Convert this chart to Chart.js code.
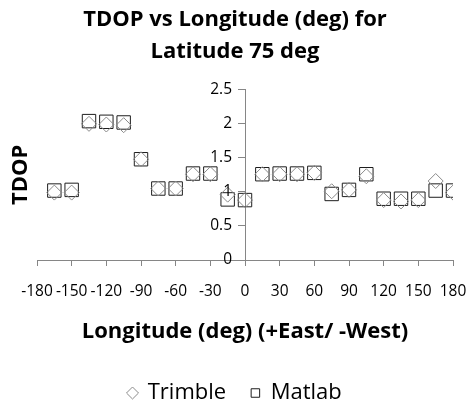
<!DOCTYPE html>
<html>
<head>
<meta charset="utf-8">
<script src="https://cdn.jsdelivr.net/npm/chart.js@4"></script>
<style>
  html, body { margin: 0; padding: 0; background: #fff; }
  #wrap { width: 472px; height: 402px; }
</style>
</head>
<body>
<div id="wrap"><canvas id="chart" width="472" height="402"></canvas></div>
<script>
// longitude of each sample (deg)
const longitudes = [-165, -150, -135, -120, -105, -90, -75, -60, -45, -30, -15, 0,
                    15, 30, 45, 60, 75, 90, 105, 120, 135, 150, 165, 180];
const trimbleTdop = [0.99, 0.99, 2.00, 1.99, 1.98, 1.48, 1.05, 1.05, 1.26, 1.26, 0.96, 0.88,
                     1.26, 1.26, 1.26, 1.28, 1.01, 1.03, 1.23, 0.88, 0.86, 0.88, 1.16, 0.99];
const matlabTdop = [1.02, 1.03, 2.04, 2.03, 2.02, 1.48, 1.05, 1.05, 1.27, 1.27, 0.89, 0.88,
                    1.26, 1.27, 1.27, 1.28, 0.97, 1.03, 1.26, 0.90, 0.90, 0.90, 1.02, 1.02];
const xTicks = [-180, -150, -120, -90, -60, -30, 0, 30, 60, 90, 120, 150, 180];
const yTicks = [0, 0.5, 1, 1.5, 2, 2.5];

const fontFam = "'Open Sans', Lato, sans-serif";
const axisGray = "#868686";
const tickFont = { family: fontFam, size: 15.5 };

function pts(ys) {
  return longitudes.map((x, i) => ({ x: x, y: ys[i] }));
}

// y labels sit left of the axis that crosses at x = 0
const yLabels = {
  id: "yLabels",
  afterDatasetsDraw(chart) {
    const c = chart.ctx;
    const xs = chart.scales.x, ys = chart.scales.y;
    const x0 = xs.getPixelForValue(0);
    c.save();
    c.font = tickFont.size + "px " + fontFam;
    c.fillStyle = "#000";
    c.textAlign = "right";
    c.textBaseline = "middle";
    yTicks.forEach((v) => {
      c.fillText(String(v), x0 - 13, ys.getPixelForValue(v));
    });
    c.restore();
  },
};

const ctx = document.querySelector("#chart").getContext("2d");

new Chart(ctx, {
  type: "scatter",
  data: {
    datasets: [
      {
        label: "Trimble",
        data: pts(trimbleTdop),
        pointStyle: "rectRot",
        pointRadius: 7.5,
        pointHoverRadius: 7.5,
        borderColor: "#8a8a8a",
        backgroundColor: "rgba(0,0,0,0)",
        pointBorderWidth: 1,
      },
      {
        label: "Matlab",
        data: pts(matlabTdop),
        pointStyle: "rect",
        pointRadius: 9.5,
        pointHoverRadius: 9.5,
        borderColor: "#1e1e1e",
        backgroundColor: "rgba(0,0,0,0)",
        pointBorderWidth: 1,
      },
    ],
  },
  plugins: [yLabels],
  options: {
    responsive: false,
    animation: false,
    events: [],
    layout: { padding: { left: 5, right: 7, top: 0, bottom: -12 } },
    plugins: {
      title: {
        display: true,
        text: ["TDOP vs Longitude (deg) for", "Latitude 75 deg"],
        color: "#000",
        font: { family: fontFam, size: 22, weight: "bold", lineHeight: 1.45 },
        padding: { top: 4, bottom: 22 },
      },
      legend: {
        position: "bottom",
        labels: {
          usePointStyle: true,
          boxWidth: 8.5,
          boxHeight: 8.5,
          padding: 25,
          color: "#000",
          font: { family: fontFam, size: 22 },
        },
      },
      tooltip: { enabled: false },
    },
    scales: {
      x: {
        type: "linear",
        position: "bottom",
        min: -180,
        max: 180,
        afterBuildTicks: (axis) => { axis.ticks = xTicks.map((v) => ({ value: v })); },
        afterFit: (axis) => { axis.paddingLeft = 0; axis.paddingRight = 19; },
        ticks: {
          color: "#000",
          padding: 16,
          maxRotation: 0,
          autoSkip: false,
          font: tickFont,
        },
        grid: { drawOnChartArea: false, drawTicks: true, tickLength: 6, color: axisGray },
        border: { color: axisGray },
        title: {
          display: true,
          text: "Longitude (deg) (+East/ -West)",
          color: "#000",
          font: { family: fontFam, size: 22, weight: "bold" },
          padding: { top: 2, bottom: 12 },
        },
      },
      y: {
        type: "linear",
        position: { x: 0 },
        min: 0,
        max: 2.5,
        afterBuildTicks: (axis) => { axis.ticks = yTicks.map((v) => ({ value: v })); },
        ticks: { display: false },
        grid: { drawOnChartArea: false, drawTicks: true, tickLength: 7, color: axisGray },
        border: { color: axisGray },
      },
      yTitle: {
        type: "linear",
        position: "left",
        min: 0,
        max: 2.5,
        afterFit: (axis) => { axis.width = 32; },
        ticks: { display: false },
        grid: { display: false },
        border: { display: false },
        title: {
          display: true,
          text: "TDOP",
          color: "#000",
          font: { family: fontFam, size: 22, weight: "bold" },
          padding: { top: 3, bottom: 3 },
        },
      },
    },
  },
});
</script>
</body>
</html>
